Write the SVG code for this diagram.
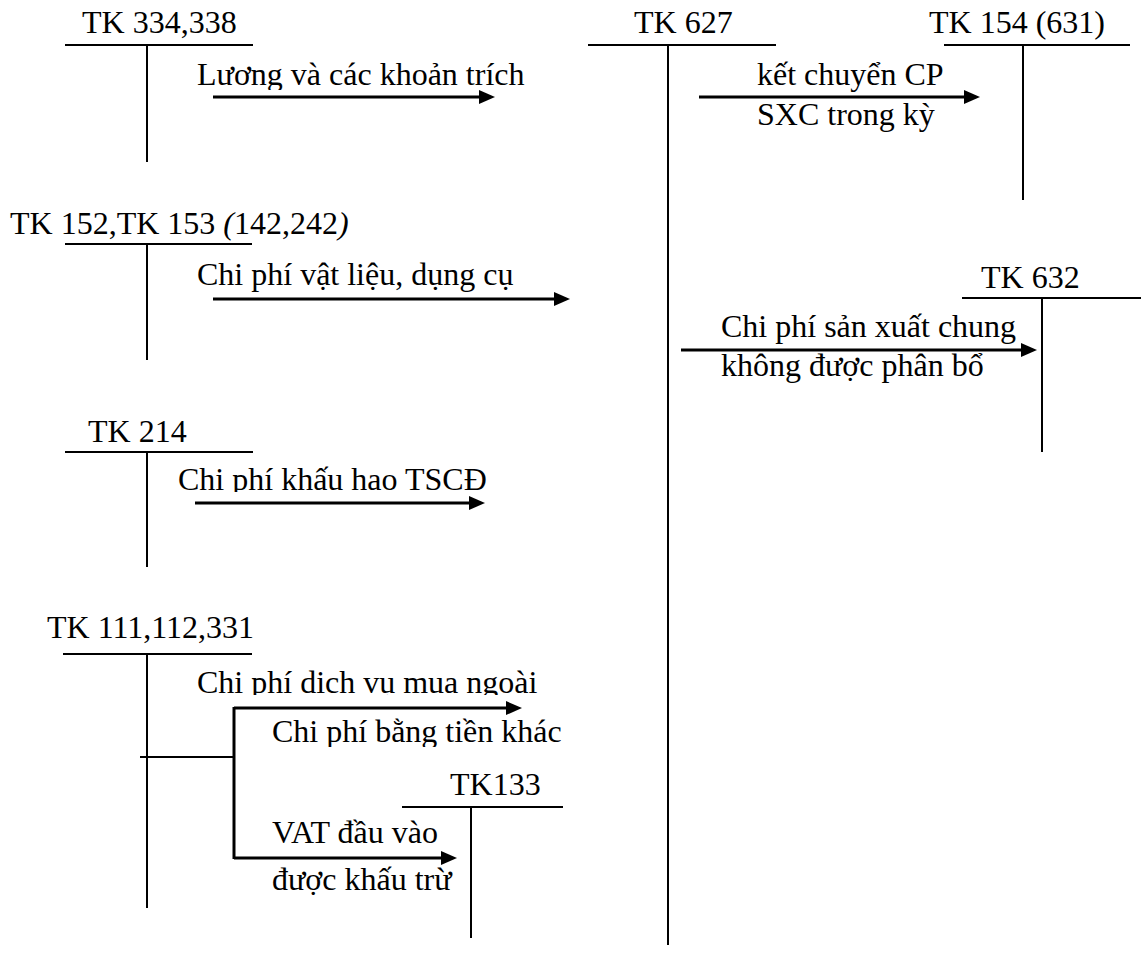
<svg xmlns="http://www.w3.org/2000/svg" width="1141" height="958" viewBox="0 0 1141 958" font-family="'Liberation Serif', 'Times New Roman', 'DejaVu Serif', serif">
<style>
text{font-family:"Liberation Serif","Times New Roman","DejaVu Serif",serif;font-size:32px;fill:#000}
.t{stroke:#000;stroke-width:2;fill:none}
.a{stroke:#000;stroke-width:3;fill:none}
</style>
<defs>
<marker id="ah" viewBox="0 0 16 14" refX="2" refY="7" markerWidth="16" markerHeight="14" markerUnits="userSpaceOnUse" orient="auto">
<path d="M0,0 L16,7 L0,14 z" fill="#000"/>
</marker>
<clipPath id="c1"><rect x="180" y="50" width="360" height="40"/></clipPath>
<clipPath id="c5"><rect x="170" y="455" width="330" height="37"/></clipPath>
<clipPath id="c6"><rect x="180" y="660" width="370" height="35"/></clipPath>
<clipPath id="c7"><rect x="260" y="712" width="320" height="35"/></clipPath>
</defs>
<rect width="1141" height="958" fill="#fff"/>
<g id="tk334">
<text x="82" y="33">TK 334,338</text>
<line class="t" x1="65" y1="45" x2="253" y2="45"/>
<line class="t" x1="147" y1="45" x2="147" y2="162"/>
</g>
<g id="tk627">
<text x="634" y="33">TK 627</text>
<line class="t" x1="588" y1="45" x2="776" y2="45"/>
<line class="t" x1="668" y1="45" x2="668" y2="945"/>
</g>
<g id="tk154">
<text x="929" y="33">TK 154 (631)</text>
<line class="t" x1="944" y1="45" x2="1130" y2="45"/>
<line class="t" x1="1023" y1="45" x2="1023" y2="200"/>
</g>
<g id="tk152">
<text x="10" y="234">TK 152,TK 153 <tspan font-style="italic">(</tspan>142,242<tspan font-style="italic">)</tspan></text>
<line class="t" x1="65" y1="244" x2="252" y2="244"/>
<line class="t" x1="147" y1="244" x2="147" y2="360"/>
</g>
<g id="tk632">
<text x="981" y="288">TK 632</text>
<line class="t" x1="962" y1="298" x2="1141" y2="298"/>
<line class="t" x1="1042" y1="298" x2="1042" y2="452"/>
</g>
<g id="tk214">
<text x="88" y="442">TK 214</text>
<line class="t" x1="65" y1="452" x2="253" y2="452"/>
<line class="t" x1="147" y1="452" x2="147" y2="567"/>
</g>
<g id="tk111">
<text x="47" y="638">TK 111,112,331</text>
<line class="t" x1="63" y1="654" x2="252" y2="654"/>
<line class="t" x1="147" y1="654" x2="147" y2="908"/>
</g>
<g id="tk133">
<text x="450" y="795">TK133</text>
<line class="t" x1="402" y1="807" x2="563" y2="807"/>
<line class="t" x1="471" y1="807" x2="471" y2="938"/>
</g>
<g id="connectors">
<line class="a" x1="213" y1="97" x2="481" y2="97" marker-end="url(#ah)"/>
<line class="a" x1="699" y1="97" x2="966" y2="97" marker-end="url(#ah)"/>
<line class="a" x1="213" y1="299" x2="556" y2="299" marker-end="url(#ah)"/>
<line class="a" x1="681" y1="350" x2="1023" y2="350" marker-end="url(#ah)"/>
<line class="a" x1="195" y1="503" x2="471" y2="503" marker-end="url(#ah)"/>
<line class="t" x1="140" y1="757" x2="234" y2="757"/>
<line class="a" x1="234" y1="707" x2="234" y2="859"/>
<line class="a" x1="234" y1="708" x2="508" y2="708" marker-end="url(#ah)"/>
<line class="a" x1="234" y1="858" x2="443" y2="858" marker-end="url(#ah)"/>
</g>
<g id="labels">
<text x="197" y="85" clip-path="url(#c1)">Lương và các khoản trích</text>
<text x="757" y="85">kết chuyển CP</text>
<text x="757" y="125">SXC trong kỳ</text>
<text x="197" y="285">Chi phí vật liệu, dụng cụ</text>
<text x="721" y="337">Chi phí sản xuất chung</text>
<text x="721" y="376">không được phân bổ</text>
<text x="178" y="490" clip-path="url(#c5)">Chi phí khấu hao TSCĐ</text>
<text x="197" y="693" clip-path="url(#c6)">Chi phí dịch vụ mua ngoài</text>
<text x="272" y="742" clip-path="url(#c7)">Chi phí bằng tiền khác</text>
<text x="272" y="843">VAT đầu vào</text>
<text x="272" y="890">được khấu trừ</text>
</g>
</svg>
